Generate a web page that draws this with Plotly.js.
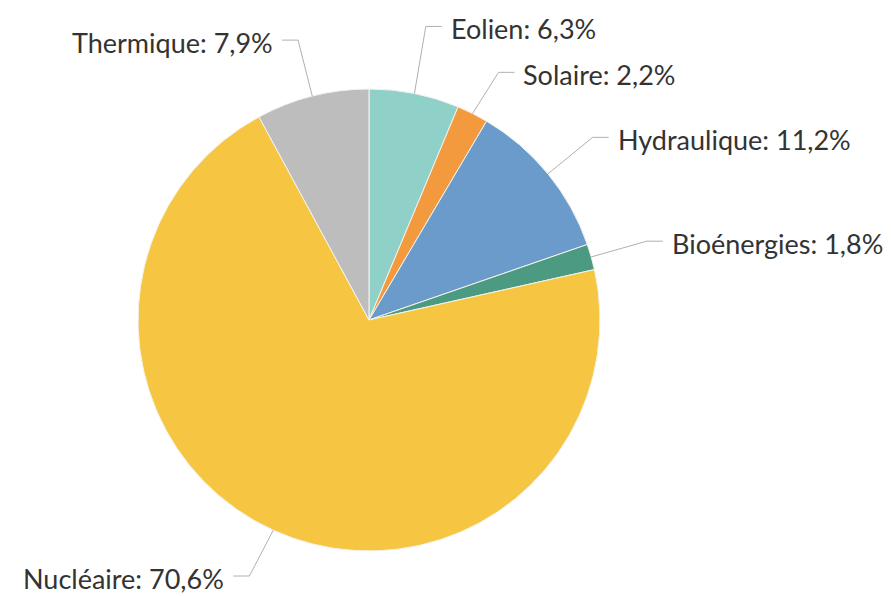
<!DOCTYPE html>
<html>
<head>
<meta charset="utf-8">
<script src="https://cdn.plot.ly/plotly-3.0.1.min.js"></script>
<style>html,body{margin:0;padding:0;background:#fff;}#chart{width:891px;height:596px;}</style>
</head>
<body>
<div id="chart"></div>
<script>
const categories = ['Eolien', 'Solaire', 'Hydraulique', 'Bioénergies', 'Nucléaire', 'Thermique'];
const shares = [6.3, 2.2, 11.2, 1.8, 70.6, 7.9];
const colors = ['#8fd0c8', '#f39a3e', '#6a9bcb', '#4c9a82', '#f6c643', '#bdbdbd'];

const W = 891, H = 596;
const domX = [0.1549, 0.6734];
const domY = [0.0755, 0.8507];
const fontSize = 27;

const labelTexts = categories.map((c, i) => c + ': ' + shares[i].toFixed(1).replace('.', ',') + '%');

// geometry derived from the pie domain
const cx = (domX[0] + domX[1]) / 2 * W;
const cy = (1 - (domY[0] + domY[1]) / 2) * H;
const R = Math.min((domX[1] - domX[0]) * W, (domY[1] - domY[0]) * H) / 2;
const RL = 1.25 * R;
const total = shares.reduce((a, b) => a + b, 0);

// initial label anchor positions along each slice's mid-angle
let cum = 0;
const items = shares.map((v, i) => {
  const a = (cum + v / 2) / total * 2 * Math.PI;
  cum += v;
  const s = Math.sin(a), c = Math.cos(a);
  return {i, s, c, side: s >= 0 ? 1 : -1,
          e: [cx + R * s, cy - R * c], kx: cx + RL * s, y: cy - RL * c};
});

// push labels apart on each side so they do not overlap
const minGap = fontSize * 1.7;
[1, -1].forEach(side => {
  const group = items.filter(o => o.side === side).sort((a, b) => a.y - b.y);
  for (let iter = 0; iter < 50; iter++) {
    for (let j = 1; j < group.length; j++) {
      const d = group[j].y - group[j - 1].y;
      if (d < minGap) {
        const sh = (minGap - d) / 2;
        group[j - 1].y -= sh;
        group[j].y += sh;
      }
    }
  }
});

const px = x => x / W, py = y => 1 - y / H;
const shapes = [];
const annotations = [];
items.forEach(o => {
  const y = Math.min(Math.max(o.y, 22), H - 20);
  const k = [o.kx, y];
  const t = [o.kx + o.side * 16, y];
  shapes.push({
    type: 'path', xref: 'paper', yref: 'paper',
    path: `M ${px(o.e[0])} ${py(o.e[1])} L ${px(k[0])} ${py(k[1])} L ${px(t[0])} ${py(t[1])}`,
    line: {color: '#b0b0b0', width: 1}
  });
  annotations.push({
    xref: 'paper', yref: 'paper', x: px(t[0] + o.side * 7), y: py(y + 2),
    xanchor: o.side > 0 ? 'left' : 'right', yanchor: 'middle',
    text: labelTexts[o.i], showarrow: false,
    font: {family: 'Lato, sans-serif', size: fontSize, color: '#333333'}
  });
});

Plotly.newPlot('chart', [{
  type: 'pie',
  labels: categories,
  values: shares,
  sort: false,
  direction: 'clockwise',
  rotation: 0,
  textinfo: 'none',
  hoverinfo: 'label+percent',
  marker: {colors: colors, line: {color: '#f4f4ee', width: 1}},
  domain: {x: domX, y: domY}
}], {
  width: W, height: H,
  margin: {l: 0, r: 0, t: 0, b: 0},
  showlegend: false,
  paper_bgcolor: '#ffffff',
  shapes: shapes,
  annotations: annotations
}, {staticPlot: true});
</script>
</body>
</html>
